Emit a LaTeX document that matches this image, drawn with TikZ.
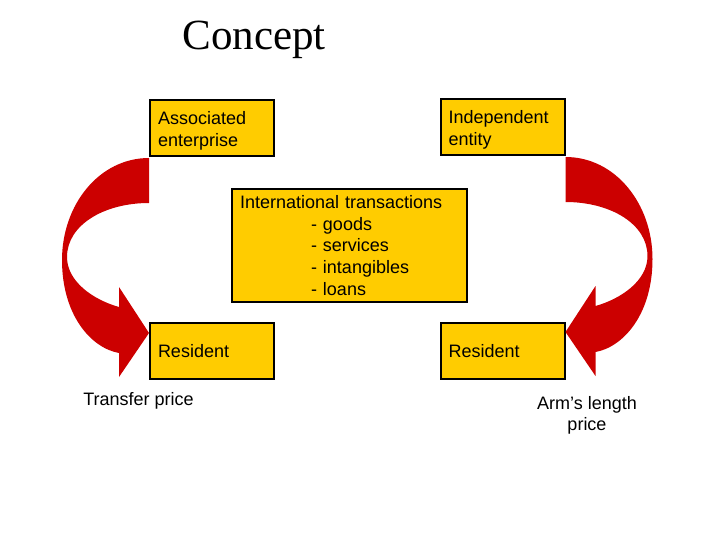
\documentclass[tikz,border=0pt]{standalone}
\usepackage{fontspec}
\setmainfont{Liberation Sans}
\newfontfamily\titlefont{Liberation Serif}
\usetikzlibrary{calc,positioning}
\definecolor{boxc}{HTML}{FFCC00}
\definecolor{redc}{HTML}{CC0000}
\tikzset{
  ybox/.style={draw=black,line width=2pt,fill=boxc,minimum width=124pt,minimum height=56pt,text width=108pt,align=left,inner sep=0pt,font=\fontsize{18}{21.6}\selectfont},
  lbl/.style={font=\fontsize{18}{21.6}\selectfont,align=center,inner sep=0pt}
}
\newcommand{\topstrut}{\rule{0pt}{19pt}}
% curved arrow, #1 = start anchor, #2 = side (1 left, -1 right)
\newcommand{\bendar}[2]{\begin{scope}[shift={(#1)},xscale=#2]
  \fill[redc] (0,1) .. controls (-50,1) and (-87,48) .. (-87,103)
    .. controls (-87,158) and (-58,191) .. (-30,196)
    -- (-30,220) -- (0,176) -- (-30,130) -- (-30,150)
    .. controls (-55,143) and (-82,125) .. (-82,100)
    .. controls (-82,68) and (-45,46) .. (0,46) -- cycle;
\end{scope}}

\begin{document}
\begin{tikzpicture}[x=1pt,y=-1pt]
\useasboundingbox (0,0) rectangle (720,540);
\fill[white] (0,0) rectangle (720,540);
\node[anchor=base,inner sep=0pt,font=\titlefont\fontsize{43}{50}\selectfont] (title) at (254,50) {Concept};
\node[ybox] (assoc) at (212,128) {\topstrut Associated\\enterprise};
\node[ybox] (indep) at (502.5,127) {\topstrut Independent\\entity};
\node[ybox,minimum width=235pt,minimum height=113pt,text width=219pt] (trans) at (349.5,245.5)
  {International transactions\\\hspace*{71pt}- goods\\\hspace*{71pt}- services\\\hspace*{71pt}- intangibles\\\hspace*{71pt}- loans};
\node[ybox] (resl) at (212,351) {Resident};
\node[ybox] (resr) at (502.5,351) {Resident};
\bendar{assoc.south west}{1}
\bendar{indep.south east}{-1}
\node[lbl] (tp) at (138.5,401) {Transfer price};
\node[lbl] (alp) at (587,415.5) {Arm’s length\\price};
\end{tikzpicture}
\end{document}
